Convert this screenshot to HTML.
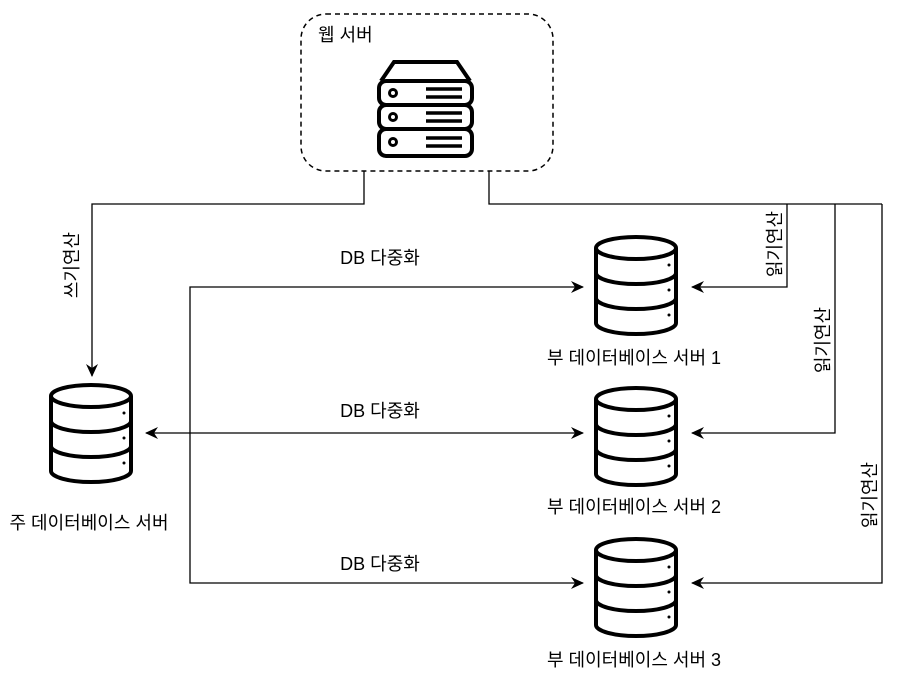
<!DOCTYPE html>
<html><head><meta charset="utf-8"><style>
html,body{margin:0;padding:0;background:#fff}
svg{display:block}
text{font-family:"Liberation Sans","Noto Sans CJK KR",sans-serif;font-size:18px;fill:#000}
</style></head><body>
<svg width="922" height="689" viewBox="0 0 922 689" xmlns="http://www.w3.org/2000/svg">
<defs>
<marker id="a" markerWidth="14" markerHeight="12" refX="12" refY="6" orient="auto" markerUnits="userSpaceOnUse">
<path d="M0,0 L13,6 L0,12 L4,6 Z" fill="#000"/>
</marker>
<marker id="b" markerWidth="14" markerHeight="12" refX="1" refY="6" orient="auto" markerUnits="userSpaceOnUse">
<path d="M13,0 L0,6 L13,12 L9,6 Z" fill="#000"/>
</marker>
<g id="db" fill="none" stroke="#000" stroke-width="4">
<ellipse cx="42" cy="13" rx="40" ry="11" fill="#fff"/>
<path d="M2,13 V88 A40,11 0 0 0 82,88 V13"/>
<path d="M2,38 A40,11 0 0 0 82,38"/>
<path d="M2,63 A40,11 0 0 0 82,63"/>
<circle cx="75" cy="30" r="1.5" fill="#000" stroke="none"/>
<circle cx="75" cy="55" r="1.5" fill="#000" stroke="none"/>
<circle cx="75" cy="80" r="1.5" fill="#000" stroke="none"/>
</g>
</defs>

<rect x="301" y="14" width="252" height="157" rx="25" ry="25" fill="none" stroke="#000" stroke-width="1.5" stroke-dasharray="5,4"/>
<text x="318" y="41">웹 서버</text>

<!-- server icon -->
<g fill="none" stroke="#000" stroke-width="4">
<path d="M381,81 L394,62 H457 L470,81"/>
<rect x="379" y="81" width="93" height="24" rx="7"/>
<rect x="379" y="105" width="93" height="24" rx="7"/>
<rect x="379" y="129" width="93" height="27" rx="7"/>
<circle cx="393" cy="93" r="3.5" stroke-width="3"/>
<circle cx="393" cy="117" r="3.5" stroke-width="3"/>
<circle cx="393" cy="142" r="3.5" stroke-width="3"/>
<path d="M426,89 H462 M426,97 H462 M426,113 H462 M426,121 H462 M426,138 H462 M426,146 H462" stroke-width="3.5"/>
</g>

<g fill="none" stroke="#000" stroke-width="1.3">
<path d="M364,171 V204 H92 V376" marker-end="url(#a)"/>
<path d="M489,171 V204 H882"/>
<path d="M787,204 V287 H692" marker-end="url(#a)"/>
<path d="M835,204 V433 H692" marker-end="url(#a)"/>
<path d="M882,204 V583 H692" marker-end="url(#a)"/>
<path d="M190,433 V287 H583" marker-end="url(#a)"/>
<path d="M190,433 V583 H583" marker-end="url(#a)"/>
<path d="M146,433 H583" marker-start="url(#b)" marker-end="url(#a)"/>
</g>

<use href="#db" x="49" y="383"/>
<use href="#db" x="594" y="235"/>
<use href="#db" x="594" y="386"/>
<use href="#db" x="594" y="537"/>

<rect x="333" y="247" width="94" height="22" fill="#fff"/>
<rect x="333" y="400" width="94" height="22" fill="#fff"/>
<rect x="333" y="553" width="94" height="22" fill="#fff"/>
<text x="380" y="264" text-anchor="middle">DB 다중화</text>
<text x="380" y="417" text-anchor="middle">DB 다중화</text>
<text x="380" y="570" text-anchor="middle">DB 다중화</text>

<text transform="translate(78,265) rotate(-90)" text-anchor="middle">쓰기연산</text>
<text transform="translate(781,244) rotate(-90)" text-anchor="middle">읽기연산</text>
<text transform="translate(829,340) rotate(-90)" text-anchor="middle">읽기연산</text>
<text transform="translate(876,495) rotate(-90)" text-anchor="middle">읽기연산</text>

<text x="89" y="529" text-anchor="middle">주 데이터베이스 서버</text>
<text x="634" y="364" text-anchor="middle">부 데이터베이스 서버 1</text>
<text x="634" y="513" text-anchor="middle">부 데이터베이스 서버 2</text>
<text x="634" y="666" text-anchor="middle">부 데이터베이스 서버 3</text>
</svg>
</body></html>
